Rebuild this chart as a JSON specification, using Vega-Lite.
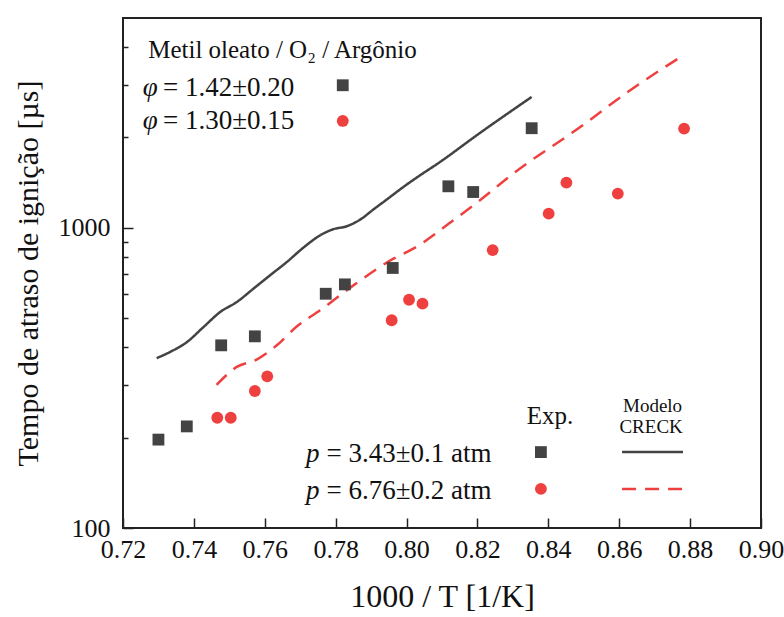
{
  "$schema": "https://vega.github.io/schema/vega-lite/v6.json",
  "width": 638,
  "height": 510,
  "autosize": "none",
  "padding": {"left": 123, "top": 18, "right": 23, "bottom": 89},
  "config": {
    "font": "Liberation Serif",
    "text": {"font": "Liberation Serif"},
    "view": {"stroke": "#222222", "strokeWidth": 2},
    "axis": {"grid": false, "domain": false, "labelFont": "Liberation Serif", "titleFont": "Liberation Serif"}
  },
  "datasets": {
    "model": [
      {"series": "p343", "x": 0.7295, "tau": 368},
      {"series": "p343", "x": 0.7333, "tau": 386},
      {"series": "p343", "x": 0.7380, "tau": 416},
      {"series": "p343", "x": 0.7427, "tau": 467},
      {"series": "p343", "x": 0.7474, "tau": 524},
      {"series": "p343", "x": 0.7521, "tau": 566},
      {"series": "p343", "x": 0.7568, "tau": 627},
      {"series": "p343", "x": 0.7615, "tau": 695},
      {"series": "p343", "x": 0.7662, "tau": 769},
      {"series": "p343", "x": 0.7709, "tau": 859},
      {"series": "p343", "x": 0.7756, "tau": 944},
      {"series": "p343", "x": 0.7793, "tau": 989},
      {"series": "p343", "x": 0.7831, "tau": 1012},
      {"series": "p343", "x": 0.7869, "tau": 1065},
      {"series": "p343", "x": 0.7906, "tau": 1150},
      {"series": "p343", "x": 0.7944, "tau": 1242},
      {"series": "p343", "x": 0.7991, "tau": 1368},
      {"series": "p343", "x": 0.8038, "tau": 1496},
      {"series": "p343", "x": 0.8085, "tau": 1628},
      {"series": "p343", "x": 0.8207, "tau": 2070},
      {"series": "p343", "x": 0.8353, "tau": 2729},
      {"series": "p676", "x": 0.7464, "tau": 300},
      {"series": "p676", "x": 0.7521, "tau": 344},
      {"series": "p676", "x": 0.7577, "tau": 364},
      {"series": "p676", "x": 0.7634, "tau": 406},
      {"series": "p676", "x": 0.7690, "tau": 469},
      {"series": "p676", "x": 0.7756, "tau": 531},
      {"series": "p676", "x": 0.7850, "tau": 643},
      {"series": "p676", "x": 0.7963, "tau": 789},
      {"series": "p676", "x": 0.8019, "tau": 852},
      {"series": "p676", "x": 0.8132, "tau": 1059},
      {"series": "p676", "x": 0.8207, "tau": 1235},
      {"series": "p676", "x": 0.8301, "tau": 1516},
      {"series": "p676", "x": 0.8490, "tau": 2167},
      {"series": "p676", "x": 0.8631, "tau": 2873},
      {"series": "p676", "x": 0.8781, "tau": 3758}
    ],
    "exp": [
      {"series": "p343", "x": 0.7300, "tau": 197},
      {"series": "p343", "x": 0.7380, "tau": 218},
      {"series": "p343", "x": 0.7477, "tau": 406},
      {"series": "p343", "x": 0.7572, "tau": 435},
      {"series": "p343", "x": 0.7772, "tau": 603},
      {"series": "p343", "x": 0.7826, "tau": 648},
      {"series": "p343", "x": 0.7961, "tau": 735},
      {"series": "p343", "x": 0.8118, "tau": 1375},
      {"series": "p343", "x": 0.8188, "tau": 1316},
      {"series": "p343", "x": 0.8353, "tau": 2147},
      {"series": "p676", "x": 0.7466, "tau": 233},
      {"series": "p676", "x": 0.7504, "tau": 233},
      {"series": "p676", "x": 0.7572, "tau": 286},
      {"series": "p676", "x": 0.7607, "tau": 320},
      {"series": "p676", "x": 0.7958, "tau": 492},
      {"series": "p676", "x": 0.8007, "tau": 576},
      {"series": "p676", "x": 0.8045, "tau": 559},
      {"series": "p676", "x": 0.8243, "tau": 843},
      {"series": "p676", "x": 0.8401, "tau": 1115},
      {"series": "p676", "x": 0.8451, "tau": 1415},
      {"series": "p676", "x": 0.8596, "tau": 1300},
      {"series": "p676", "x": 0.8783, "tau": 2141}
    ],
    "legendSymbols": [
      {"series": "p343", "x": 0.7820, "tau": 2985},
      {"series": "p676", "x": 0.7820, "tau": 2270},
      {"series": "p343", "x": 0.8379, "tau": 179},
      {"series": "p676", "x": 0.8379, "tau": 135}
    ],
    "legendLines": [
      {"series": "p343", "x": 0.8608, "tau": 179},
      {"series": "p343", "x": 0.8780, "tau": 179},
      {"series": "p676", "x": 0.8608, "tau": 135},
      {"series": "p676", "x": 0.8780, "tau": 135}
    ],
    "legendTitle": [
      {"text": "Metil oleato / O₂ / Argônio", "x": 0.7271, "tau": 3908}
    ],
    "italicText": [
      {"text": "φ", "x": 0.7256, "tau": 2917},
      {"text": "φ", "x": 0.7256, "tau": 2265},
      {"text": "p", "x": 0.7716, "tau": 177},
      {"text": "p", "x": 0.7716, "tau": 133}
    ],
    "plainText": [
      {"text": "= 1.42±0.20", "x": 0.7313, "tau": 2917},
      {"text": "= 1.30±0.15", "x": 0.7313, "tau": 2265},
      {"text": "= 3.43±0.1 atm", "x": 0.7774, "tau": 177},
      {"text": "= 6.76±0.2 atm", "x": 0.7774, "tau": 133}
    ],
    "expText": [
      {"text": "Exp.", "x": 0.8405, "tau": 237}
    ],
    "modelText": [
      {"text": "Modelo", "x": 0.8694, "tau": 254},
      {"text": "CRECK", "x": 0.8690, "tau": 217}
    ]
  },
  "layer": [
    {
      "data": {"name": "model"},
      "mark": {"type": "line", "strokeWidth": 2.5, "interpolate": "monotone"},
      "encoding": {
        "x": {
          "field": "x", "type": "quantitative",
          "scale": {"domain": [0.72, 0.9], "nice": false, "zero": false},
          "axis": {
            "values": [0.72, 0.73, 0.74, 0.75, 0.76, 0.77, 0.78, 0.79, 0.8, 0.81, 0.82, 0.83, 0.84, 0.85, 0.86, 0.87, 0.88, 0.89, 0.9],
            "labelExpr": "round(datum.value*100) % 2 == 0 ? format(datum.value, '.2f') : ''",
            "labelOverlap": false,
            "labelFlush": false,
            "labelFont": "Liberation Serif",
            "labelFontSize": 26,
            "labelColor": "#111111",
            "labelPadding": 18,
            "tickColor": "#222222",
            "tickWidth": 1.5,
            "tickSize": {"condition": {"test": "round(datum.value*100) % 2 == 0", "value": -10}, "value": -5},
            "title": "1000 / T  [1/K]",
            "titleFont": "Liberation Serif",
            "titleFontSize": 32,
            "titleFontWeight": "normal",
            "titleColor": "#111111",
            "titlePadding": 19
          }
        },
        "y": {
          "field": "tau", "type": "quantitative",
          "scale": {"type": "log", "domain": [100, 5000], "nice": false},
          "axis": {
            "values": [100, 200, 300, 400, 500, 600, 700, 800, 900, 1000, 2000, 3000, 4000],
            "labelExpr": "(datum.value == 100 || datum.value == 1000) ? format(datum.value, 'd') : ''",
            "labelOverlap": false,
            "labelFlush": false,
            "labelFont": "Liberation Serif",
            "labelFontSize": 26,
            "labelColor": "#111111",
            "labelPadding": 23,
            "tickColor": "#222222",
            "tickWidth": 1.5,
            "tickSize": {"condition": {"test": "datum.value == 100 || datum.value == 1000", "value": -10}, "value": -5},
            "title": "Tempo de atraso de ignição [µs]",
            "titleFont": "Liberation Serif",
            "titleFontSize": 30,
            "titleFontWeight": "normal",
            "titleColor": "#111111",
            "titlePadding": 15
          }
        },
        "color": {"field": "series", "type": "nominal", "scale": {"domain": ["p343", "p676"], "range": ["#434343", "#ef4040"]}, "legend": null},
        "strokeDash": {"field": "series", "type": "nominal", "scale": {"domain": ["p343", "p676"], "range": [[1, 0], [14, 9]]}, "legend": null}
      }
    },
    {
      "data": {"name": "exp"},
      "mark": {"type": "point", "filled": true, "opacity": 1, "size": 140},
      "encoding": {
        "x": {"field": "x", "type": "quantitative"},
        "y": {"field": "tau", "type": "quantitative"},
        "color": {"field": "series", "type": "nominal", "legend": null},
        "shape": {"field": "series", "type": "nominal", "scale": {"domain": ["p343", "p676"], "range": ["square", "circle"]}, "legend": null}
      }
    },
    {
      "data": {"name": "legendSymbols"},
      "mark": {"type": "point", "filled": true, "opacity": 1, "size": 140},
      "encoding": {
        "x": {"field": "x", "type": "quantitative"},
        "y": {"field": "tau", "type": "quantitative"},
        "color": {"field": "series", "type": "nominal", "legend": null},
        "shape": {"field": "series", "type": "nominal", "legend": null}
      }
    },
    {
      "data": {"name": "legendLines"},
      "mark": {"type": "line", "strokeWidth": 2.5},
      "encoding": {
        "x": {"field": "x", "type": "quantitative"},
        "y": {"field": "tau", "type": "quantitative"},
        "color": {"field": "series", "type": "nominal", "legend": null},
        "strokeDash": {"field": "series", "type": "nominal", "legend": null}
      }
    },
    {
      "data": {"name": "legendTitle"},
      "mark": {"type": "text", "font": "Liberation Serif", "fontSize": 25, "align": "left", "baseline": "middle", "color": "#111111"},
      "encoding": {
        "x": {"field": "x", "type": "quantitative"},
        "y": {"field": "tau", "type": "quantitative"},
        "text": {"field": "text"}
      }
    },
    {
      "data": {"name": "italicText"},
      "mark": {"type": "text", "font": "Liberation Serif", "fontSize": 27, "fontStyle": "italic", "align": "left", "baseline": "middle", "color": "#111111"},
      "encoding": {
        "x": {"field": "x", "type": "quantitative"},
        "y": {"field": "tau", "type": "quantitative"},
        "text": {"field": "text"}
      }
    },
    {
      "data": {"name": "plainText"},
      "mark": {"type": "text", "font": "Liberation Serif", "fontSize": 27, "align": "left", "baseline": "middle", "color": "#111111"},
      "encoding": {
        "x": {"field": "x", "type": "quantitative"},
        "y": {"field": "tau", "type": "quantitative"},
        "text": {"field": "text"}
      }
    },
    {
      "data": {"name": "expText"},
      "mark": {"type": "text", "font": "Liberation Serif", "fontSize": 25, "align": "center", "baseline": "middle", "color": "#111111"},
      "encoding": {
        "x": {"field": "x", "type": "quantitative"},
        "y": {"field": "tau", "type": "quantitative"},
        "text": {"field": "text"}
      }
    },
    {
      "data": {"name": "modelText"},
      "mark": {"type": "text", "font": "Liberation Serif", "fontSize": 19, "align": "center", "baseline": "middle", "color": "#111111"},
      "encoding": {
        "x": {"field": "x", "type": "quantitative"},
        "y": {"field": "tau", "type": "quantitative"},
        "text": {"field": "text"}
      }
    }
  ]
}
